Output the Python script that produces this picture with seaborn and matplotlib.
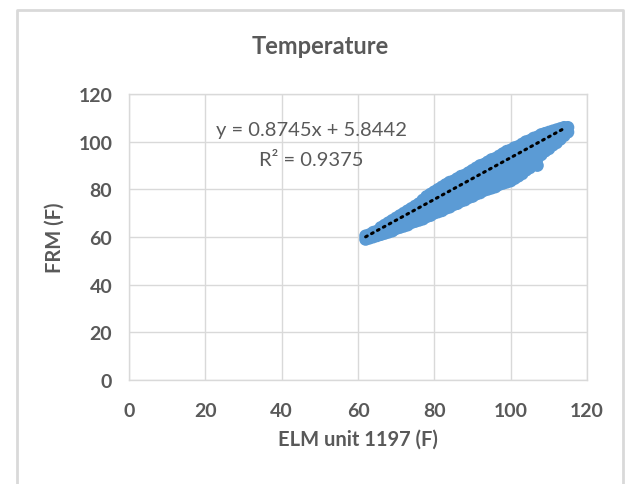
import matplotlib
matplotlib.use("Agg")
import matplotlib.pyplot as plt
import seaborn as sns
import pandas as pd
import numpy as np
from matplotlib.lines import Line2D

# ---- data (ELM reading -> FRM readings at that value) ----
elm_values = [62, 63, 64, 65, 66, 67, 68, 69, 70, 71, 72, 73, 74, 75, 76, 77,
              78, 79, 80, 81, 82, 83, 84, 85, 86, 87, 88, 89, 90, 91, 92, 93,
              94, 95, 96, 97, 98, 99, 100, 101, 102, 103, 104, 105, 106, 107,
              108, 109, 110, 111, 112, 113, 114, 115]
frm_values = [
    [59, 60.5], [59.5, 61], [60, 62], [60.5, 62.5], [61, 63, 64],
    [61.5, 63.5, 65], [62, 64, 66], [62.5, 65, 67], [63.5, 65.5, 68],
    [64, 66.5, 69], [64.5, 67, 70], [65, 68, 71], [66, 69, 72],
    [66.5, 69.5, 73], [67, 70.5, 74], [67.5, 71, 74.5, 75.5],
    [68.5, 72, 75, 77], [69, 72.5, 75.5, 78], [70, 73.5, 76.5, 79],
    [70.5, 74, 77.5, 80], [71, 75, 78, 81], [72, 75.5, 79, 82],
    [72.5, 76.5, 80, 83], [73.5, 77, 80.5, 83.5], [74, 78, 81.5, 84.5],
    [75, 78.5, 82, 85.5], [75.5, 79.5, 83, 86], [76.5, 80, 84, 87],
    [77, 81, 85, 88], [78, 82, 85.5, 89], [78.5, 82.5, 86.5, 90],
    [79.5, 83.5, 87, 90.5], [80, 84, 88, 91.5], [80.5, 85, 88.5, 92.5],
    [81, 85.5, 89.5, 93], [82, 86, 90, 94], [82.5, 87, 91, 95],
    [83, 87.5, 92, 96], [83.5, 88.5, 92.5, 96.5], [84.5, 89, 93, 97.5],
    [85.5, 90, 94, 98], [86.5, 91, 95, 99], [88, 92, 96, 100],
    [89, 93, 97, 100.5], [91, 94.5, 98, 101.5], [90, 93, 96.5, 99.5, 102],
    [94.5, 98, 101, 103], [96, 99, 102, 103.5], [97, 100.5, 104],
    [98.5, 101.5, 104.5], [99.5, 102.5, 105], [101, 103.5, 105.5],
    [102.5, 104.5, 106], [104, 106]]

trend_slope = 0.8745
trend_intercept = 5.8442
r_squared = 0.9375

x_ticks = [0, 20, 40, 60, 80, 100, 120]
y_ticks = [0, 20, 40, 60, 80, 100, 120]

title = "Temperature"
x_label = "ELM unit 1197 (F)"
y_label = "FRM (F)"

# ---- plotting ----
sns.set_theme(style="white")
plt.rcParams["font.family"] = ["Lato", "DejaVu Sans"]

text_color = "#595959"
grid_color = "#d9d9d9"
point_color = "#5B9BD5"

rows = [(x, y) for x, ys in zip(elm_values, frm_values) for y in ys]
df = pd.DataFrame(rows, columns=["x", "y"])

fig = plt.figure(figsize=(6.25, 4.85), dpi=100)
ax = fig.add_axes([129/625, 1-381/485, (587-129)/625, (381-95)/485])

sns.scatterplot(data=df, x="x", y="y", ax=ax, color=point_color, s=85,
                edgecolor="none", linewidth=0, zorder=3)

tx = np.array([df["x"].min(), df["x"].max() - 1])
ax.plot(tx, trend_slope*tx + trend_intercept, color="black", lw=2.2,
        linestyle=(0, (0.6, 1.6)), dash_capstyle="round", zorder=4)

ax.set_xlim(0, 120)
ax.set_ylim(0, 120)
ax.set_xticks(x_ticks)
ax.set_yticks(y_ticks)
ax.grid(True, color=grid_color, linewidth=1)
ax.set_axisbelow(True)
for sp in ax.spines.values():
    sp.set_color(grid_color)
    sp.set_linewidth(1)
ax.tick_params(axis="both", length=0, labelsize=14, labelcolor=text_color)
ax.tick_params(axis="x", pad=16)
ax.tick_params(axis="y", pad=12)
for lbl in ax.get_xticklabels() + ax.get_yticklabels():
    lbl.set_fontweight("bold")

ax.set_xlabel(x_label, fontsize=14.5, fontweight="bold", color=text_color, labelpad=7)
ax.set_ylabel(y_label, fontsize=14.5, fontweight="bold", color=text_color, labelpad=10)

fig.text(320/625, 1-47/485, title, ha="center", va="center", fontsize=17,
         fontweight="bold", color=text_color)

ax.text(47.7, 105.3, f"y = {trend_slope}x + {trend_intercept}", ha="center",
        va="center", fontsize=14.5, color=text_color, zorder=5)
ax.text(47.7, 92.7, f"R\u00b2 = {r_squared}", ha="center", va="center",
        fontsize=14.5, color=text_color, zorder=5)

# chart area border (left, top, right)
bx0, bx1, by0 = 17/625, 622.5/625, 1-11/485
fig.add_artist(Line2D([bx0, bx0, bx1, bx1], [0, by0, by0, 0],
                      transform=fig.transFigure, color=grid_color, lw=2))

fig.savefig("out.png", dpi=100)
